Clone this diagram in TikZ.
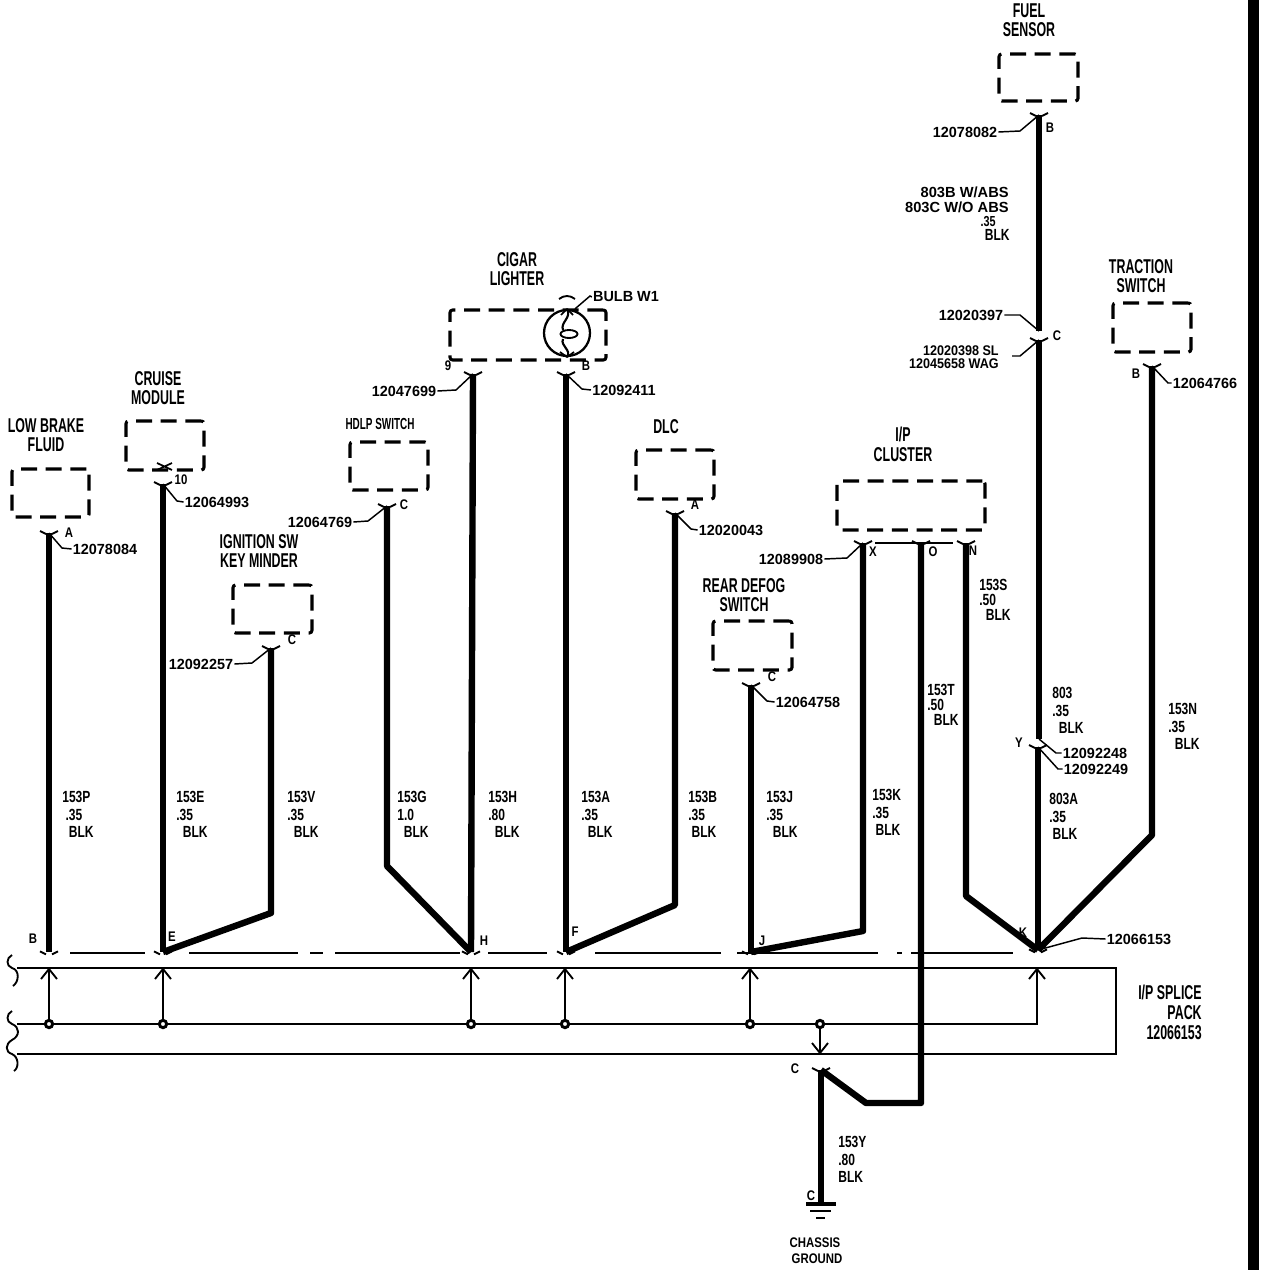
\documentclass[tikz,border=0pt]{standalone}
\usepackage{fontspec}
\usepackage{graphicx}
\setmainfont{Liberation Sans}
\newcommand{\ttlc}[1]{\scalebox{.62}[1]{\fontsize{15}{14}\selectfont\bfseries\begin{tabular}{@{}c@{}}#1\end{tabular}}}
\newcommand{\ttlr}[1]{\scalebox{.62}[1]{\fontsize{15}{14}\selectfont\bfseries\begin{tabular}{@{}r@{}}#1\end{tabular}}}
\newcommand{\wlb}[1]{\scalebox{.82}[1.1]{\fontsize{11}{11.9}\selectfont\bfseries\begin{tabular}{@{}l@{}}#1\end{tabular}}}
\newcommand{\wlt}[1]{\scalebox{.82}[1.1]{\fontsize{11}{8.6}\selectfont\bfseries\begin{tabular}{@{}l@{}}#1\end{tabular}}}
\newcommand{\wlr}[1]{\scalebox{1.0}[1.0]{\fontsize{11}{9.2}\selectfont\bfseries\begin{tabular}{@{}r@{}}#1\end{tabular}}}
\newcommand{\pnr}[1]{\scalebox{.9}[1.0]{\fontsize{10.5}{9}\selectfont\bfseries\begin{tabular}{@{}r@{}}#1\end{tabular}}}
\newcommand{\pn}[1]{\scalebox{1.03}[1.05]{\fontsize{10.5}{10.5}\selectfont\bfseries #1}}
\newcommand{\lt}[1]{\scalebox{.9}[1.1]{\fontsize{9.5}{10}\selectfont\bfseries #1}}
\newcommand{\bx}[5]{\node[dashbox,minimum width=#4*0.75pt,minimum height=#5*0.75pt] (#1) at (#2,#3) {};}
\newcommand{\ind}{\hspace*{3pt}}
\tikzset{
 x=0.75pt,y=-0.75pt,
 dashbox/.style={draw,line width=2.3pt,rounded corners=2pt,dash pattern=on 12pt off 6.5pt,inner sep=0pt,outer sep=0pt},
 wire/.style={line width=4.8pt,line join=round},
 lead/.style={line width=1.1pt},
 rail/.style={line width=2.1pt},
 thin rail/.style={line width=1.6pt},
 txt/.style={inner sep=0pt,outer sep=1pt,text=black},
 dotj/.style={circle,draw,fill=white,line width=2.2pt,minimum size=5.5pt,inner sep=0pt},
 wirecap/.pic={\draw[line width=1.4pt] (-9,-2) -- (-3,1) (9,-2) -- (3,1);},
 oarrow/.pic={\draw[line width=1.4pt] (-8,10) -- (0,0) -- (8,10);},
 darrow/.pic={\draw[line width=1.4pt] (-8,-10) -- (0,0) -- (8,-10);},
}
\begin{document}
\begin{tikzpicture}
\useasboundingbox (0,0) rectangle (1264,1270);
% right black bar
\fill[black] (1248,0) rectangle (1259,1270);

% boxes
\bx{bBrake}{50.5}{493}{77}{48}
\bx{bCruise}{165}{445.5}{78}{49}
\bx{bIgn}{272.5}{609}{79}{48}
\bx{bHdlp}{389}{466}{78}{48}
\bx{bCigar}{528}{335}{156}{50}
\bx{bDlc}{675}{474.5}{78}{49}
\bx{bDefog}{752.5}{645.5}{79}{49}
\bx{bClus}{911}{505.5}{148}{49}
\bx{bFuel}{1038.5}{77.5}{79}{47}
\bx{bTrac}{1152}{327.5}{78}{49}

% titles
\node[txt] (tBrake) at (46,438) {\ttlc{LOW BRAKE\\FLUID}};
\node[txt] (tCruise) at (158,391) {\ttlc{CRUISE\\MODULE}};
\node[txt] (tIgn) at (259,554) {\ttlc{IGNITION SW\\KEY MINDER}};
\node[txt] (tHdlp) at (380,426) {\scalebox{.8}{\ttlc{HDLP SWITCH}}};
\node[txt] (tCigar) at (517,272) {\ttlc{CIGAR\\LIGHTER}};
\node[txt] (tDlc) at (666,429) {\ttlc{DLC}};
\node[txt] (tDefog) at (744,598) {\ttlc{REAR DEFOG\\SWITCH}};
\node[txt] (tClus) at (903,447) {\ttlc{I/P\\CLUSTER}};
\node[txt] (tFuel) at (1029,23) {\ttlc{FUEL\\SENSOR}};
\node[txt] (tTrac) at (1141,279) {\ttlc{TRACTION\\SWITCH}};
\node[txt,anchor=east] (tPack) at (1203,1015) {\ttlr{I/P SPLICE\\PACK\\12066153}};
\node[txt] (tGnd) at (815,1243) {\lt{CHASSIS}};
\node[txt] (tGnd2) at (817,1259) {\lt{GROUND}};

% wire coordinates
\coordinate (pT) at (49,533);   \coordinate (pB) at (49,952);
\coordinate (eT) at (163,484);  \coordinate (eB) at (163,952);
\coordinate (vT) at (271,648);  \coordinate (vK) at (271,913);
\coordinate (gT) at (387,506);  \coordinate (gK) at (387,866);
\coordinate (hT) at (473,374);  \coordinate (hB) at (471,952);
\coordinate (aT) at (566,374);  \coordinate (aB) at (566,952);
\coordinate (bT) at (675,513);  \coordinate (bK) at (675,905);
\coordinate (jT) at (751,685);  \coordinate (jB) at (751,952);
\coordinate (kT) at (863,543);  \coordinate (kK) at (863,931);
\coordinate (tT) at (921,543);  \coordinate (tK) at (921,1103);  \coordinate (tL) at (866,1103);
\coordinate (sT) at (966,543);  \coordinate (sK) at (966,896);
\coordinate (yT) at (821,1070); \coordinate (yB) at (821,1204);
\coordinate (fT) at (1039,115); \coordinate (fB) at (1039,331);
\coordinate (cT) at (1039,340); \coordinate (cB) at (1039,739);
\coordinate (dT) at (1038,747); \coordinate (dB) at (1038,950);
\coordinate (nT) at (1152,366); \coordinate (nK) at (1152,835);

% wires
\draw[wire] (pT) -- (pB);
\draw[wire] (eT) -- (eB);
\draw[wire] (vT) -- (vK) -- (eB);
\draw[wire] (gT) -- (gK) -- (hB);
\draw[wire] (hT) -- (hB);
\draw[wire] (aT) -- (aB);
\draw[wire] (bT) -- (bK) -- (aB);
\draw[wire] (jT) -- (jB);
\draw[wire] (kT) -- (kK) -- (jB);
\draw[wire] (tT) -- (tK) -- (tL) -- (yT);
\draw[wire] (sT) -- (sK) -- (dB);
\draw[wire] (yT) -- (yB);
\draw[wire] (fT) -- (fB);
\draw[wire] (cT) -- (cB);
\draw[wire] (dT) -- (dB);
\draw[wire] (nT) -- (nK) -- (dB);

% connector caps
\foreach \c in {pT,eT,vT,gT,hT,aT,bT,jT,kT,tT,sT,fT,cT,dT,nT,yT}
  \pic at (\c) {wirecap};
\foreach \c in {pB,eB,hB,aB,jB,dB}
  \pic at ([yshift=-1pt]\c) {wirecap};
\draw[line width=1.3pt] (157,463) -- (172,470) (172,463) -- (157,470);
\draw[line width=1.5pt] (875,543) -- (953,543);

% splice line
\foreach \a/\b in {70/145,189/298,310/323,335/460,488/547,595/721,737/878,897/902,911/1013}
  \draw[thin rail] (\a,953) -- (\b,953);

% splice pack
\coordinate (rTL) at (17,968); \coordinate (rTR) at (1116,968);
\coordinate (rBR) at (1116,1054); \coordinate (rBL) at (17,1054);
\draw[rail,line join=miter] (rTL) -- (rTR) -- (rBR) -- (rBL);
\coordinate (mL) at (17,1024); \coordinate (mR) at (1037,1024); \coordinate (mU) at (1037,968);
\draw[thin rail,line width=1.4pt] (mL) -- (mR) -- (mU);
\foreach \x in {49,163,471,565,750,820} \coordinate (j\x) at (\x,1024);
\foreach \x in {49,163,471,565,750} {
  \draw[line width=1.3pt] (j\x) -- (\x,968);
  \pic at (\x,969) {oarrow};
}
\pic at (1037,969) {oarrow};
\draw[line width=1.3pt] (j820) -- (820,1054);
\pic at (820,1053) {darrow};
\foreach \x in {49,163,471,565,750,820} \node[dotj] (d\x) at (j\x) {};
% wavy break marks
\draw[line width=1.4pt] (12,955) .. controls (6,958) and (6,966) .. (12,968) .. controls (20,970) and (19,982) .. (13,986);
\draw[line width=1.4pt] (12,1011) .. controls (6,1014) and (6,1022) .. (12,1024) .. controls (20,1027) and (20,1036) .. (12,1040) .. controls (5,1044) and (5,1052) .. (12,1054) .. controls (19,1057) and (19,1068) .. (14,1071);

% part numbers + leaders
\node[txt] (n1) at (105,549) {\pn{12078084}};   \draw[lead] (pT) -- (62,548) -- (n1.west);
\node[txt] (n2) at (217,502) {\pn{12064993}};   \draw[lead] (eT) -- (177,501) -- (n2.west);
\node[txt] (n3) at (201,664) {\pn{12092257}};   \draw[lead] (vT) -- (252,663) -- (n3.east);
\node[txt] (n4) at (320,522) {\pn{12064769}};   \draw[lead] (gT) -- (368,521) -- (n4.east);
\node[txt] (n5) at (404,391) {\pn{12047699}};   \draw[lead] (hT) -- (456,390) -- (n5.east);
\node[txt] (n6) at (624,390) {\pn{12092411}};   \draw[lead] (aT) -- (582,389) -- (n6.west);
\node[txt] (n7) at (731,530) {\pn{12020043}};   \draw[lead] (bT) -- (691,529) -- (n7.west);
\node[txt] (n8) at (808,702) {\pn{12064758}};   \draw[lead] (jT) -- (767,701) -- (n8.west);
\node[txt] (n9) at (791,559) {\pn{12089908}};   \draw[lead] (kT) -- (847,558) -- (n9.east);
\node[txt] (n10) at (965,132) {\pn{12078082}};  \draw[lead] (fT) -- (1020,131) -- (n10.east);
\node[txt] (n11) at (971,315) {\pn{12020397}};  \draw[lead] (fB) -- (1020,315) -- (n11.east);
\node[txt,anchor=east] (n12) at (1000,359) {\pnr{12020398 SL\\12045658 WAG}};
\coordinate (n12k) at (1020,356);
\draw[lead] (cT) -- (n12k) -- (1012,356);
\node[txt] (n13) at (1205,383) {\pn{12064766}}; \draw[lead] (nT) -- (1168,383) -- (n13.west);
\node[txt] (n14) at (1095,753) {\pn{12092248}}; \draw[lead] (cB) -- (1056,753) -- (n14.west);
\node[txt] (n15) at (1096,769) {\pn{12092249}}; \draw[lead] (dT) -- (1058,769) -- (n15.west);
\node[txt] (n16) at (1139,939) {\pn{12066153}}; \draw[lead] (dB) -- (1082,938) -- (n16.west);

% pin letters
\foreach \n/\s/\x/\y in {a1/A/69/533,a2/10/181/480,a3/C/292/640,a4/C/404/505,a5/9/448/366,a6/B/586/366,a7/A/695/505,a8/C/772/677,a9/X/873/552,a10/O/933/552,a11/N/973/551,a12/B/1050/128,a13/C/1057/336,a14/B/1136/374,a15/Y/1019/743,a16/B/33/939,a17/E/172/937,a18/H/484/941,a19/F/575/932,a20/J/762/941,a21/K/1023/933,a22/C/795/1069,a23/C/811/1196}
  \node[txt] (\n) at (\x,\y) {\lt{\s}};

% wire labels
\node[txt,anchor=north west] (w1) at (61,789) {\wlb{153P\\\ind.35\\\ind\ind BLK}};
\node[txt,anchor=north west] (w2) at (175,789) {\wlb{153E\\.35\\\ind\ind BLK}};
\node[txt,anchor=north west] (w3) at (286,789) {\wlb{153V\\.35\\\ind\ind BLK}};
\node[txt,anchor=north west] (w4) at (396,789) {\wlb{153G\\1.0\\\ind\ind BLK}};
\node[txt,anchor=north west] (w5) at (487,789) {\wlb{153H\\.80\\\ind\ind BLK}};
\node[txt,anchor=north west] (w6) at (580,789) {\wlb{153A\\.35\\\ind\ind BLK}};
\node[txt,anchor=north west] (w7) at (687,789) {\wlb{153B\\.35\\\ind BLK}};
\node[txt,anchor=north west] (w8) at (765,789) {\wlb{153J\\.35\\\ind\ind BLK}};
\node[txt,anchor=north west] (w9) at (871,787) {\wlb{153K\\.35\\\ind BLK}};
\node[txt,anchor=north west] (w10) at (926,683) {\wlt{153T\\.50\\\ind\ind BLK}};
\node[txt,anchor=north west] (w11) at (978,578) {\wlt{153S\\.50\\\ind\ind BLK}};
\node[txt,anchor=north west] (w12) at (1051,685) {\wlb{803\\.35\\\ind\ind BLK}};
\node[txt,anchor=north west] (w13) at (1048,791) {\wlb{803A\\.35\\\ind BLK}};
\node[txt,anchor=north west] (w14) at (1167,701) {\wlb{153N\\.35\\\ind\ind BLK}};
\node[txt,anchor=north west] (w15) at (837,1134) {\wlb{153Y\\.80\\BLK}};
\node[txt,anchor=north east] (w16) at (1010,186) {\wlr{803B W/ABS\\803C W/O ABS}};
\node[txt,anchor=north east] (w17) at (997,214) {\scalebox{.9}{\wlb{.35}}};
\node[txt,anchor=north east] (w18) at (1011,227) {\wlb{BLK}};

% bulb
\node[circle,draw,fill=white,line width=1.7pt,minimum size=46*0.75pt,inner sep=0pt] (bulb) at (567,333) {};
\draw[line width=1.6pt] (bulb.north) .. controls (572,318) and (560,322) .. (563,330)
   (bulb.south) .. controls (572,350) and (560,346) .. (563,339);
\draw[line width=1.3pt] (bulb.south) -- (560,352) (bulb.south) -- (574,352)
   (bulb.north) -- (561,315) (bulb.north) -- (573,315);
\draw[line width=1.4pt] (569,334) ellipse (8.5 and 4);
\draw[line width=1.4pt] (559,299) .. controls (564,295) and (570,295) .. (575,299);
\node[txt] (nBulb) at (626,297) {\pn{BULB W1}};
\draw[lead] (bulb.north) ++(8,0) -- (590,296) -- (nBulb.west);

% ground
\draw[line width=2.6pt] (806,1204) -- (836,1204);
\draw[line width=2pt] (810,1211) -- (831,1211);
\draw[line width=2pt] (816,1218) -- (825,1218);
\end{tikzpicture}
\end{document}
